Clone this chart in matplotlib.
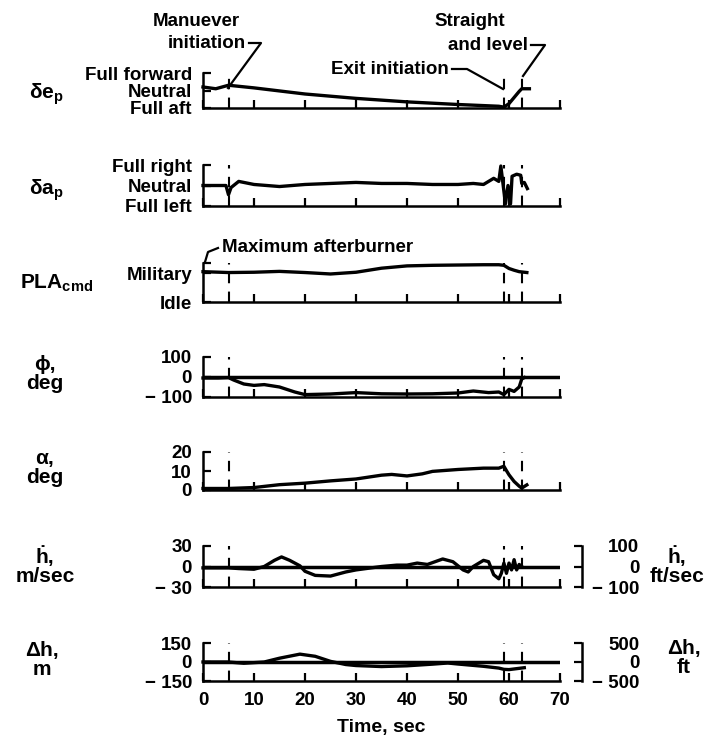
import matplotlib
matplotlib.use("Agg")
import matplotlib.pyplot as plt
from matplotlib.lines import Line2D

plt.rcParams['font.family'] = ['Liberation Sans', 'DejaVu Sans']
plt.rcParams['font.weight'] = 'bold'
plt.rcParams['mathtext.fontset'] = 'custom'
plt.rcParams['mathtext.rm'] = 'Liberation Sans:bold'
plt.rcParams['mathtext.it'] = 'Liberation Sans:bold'
plt.rcParams['mathtext.bf'] = 'Liberation Sans:bold'

# ---------------- data ----------------
event_times = [5, 59, 62.5]          # manuever initiation, exit initiation, straight and level
x_ticks = [0, 10, 20, 30, 40, 50, 60, 70]

t_de = [0, 2.5, 5, 10, 20, 30, 40, 50, 58, 59, 60, 61, 62, 62.5, 64]
de = [0.2, 0.1, 0.3, 0.15, -0.2, -0.45, -0.65, -0.8, -0.9, -0.95, -0.75, -0.4, -0.05, 0.1, 0.1]

t_da = [0, 4.5, 5, 5.5, 7, 10, 15, 20, 25, 30, 35, 40, 45, 50, 53, 55, 57, 58, 58.4,
        59.3, 59.8, 60.3, 60.6, 61.5, 62.3, 62.5, 63, 63.6]
da = [0, 0, -0.45, -0.1, 0.2, 0.05, -0.05, 0.05, 0.1, 0.15, 0.1, 0.1, 0.05, 0.05, 0.1, 0.05,
      0.35, 0.2, 0.95, -0.9, 0.0, -0.9, 0.45, 0.55, 0.5, 0.1, 0.15, -0.15]

t_pla = [0, 5, 10, 15, 20, 25, 30, 35, 40, 45, 50, 55, 58, 59, 60, 61, 62, 63.5]
pla = [1.05, 1.02, 1.03, 1.06, 1.02, 0.97, 1.03, 1.17, 1.25, 1.27, 1.28, 1.29, 1.29, 1.27, 1.16, 1.1, 1.05, 1.02]

t_phi = [0, 3, 5, 6, 8, 10, 12, 15, 18, 20, 25, 30, 35, 40, 45, 50, 53, 56, 58, 59, 60, 61, 62, 62.5, 63]
phi = [-5, -5, -3, -15, -35, -42, -38, -50, -75, -88, -85, -78, -84, -85, -84, -80, -70, -78, -75, -88, -62, -72, -50, -10, -3]

t_alpha = [0, 5, 10, 15, 20, 25, 30, 35, 37, 40, 43, 45, 50, 55, 58, 59, 59.5, 60, 61, 62, 62.5, 63.5]
alpha = [0.8, 0.8, 1.3, 2.8, 3.6, 4.8, 5.8, 7.8, 8.2, 7.4, 8.5, 9.8, 10.8, 11.5, 11.5, 12.5, 10.2, 8, 4.5, 2, 1, 2.7]

t_hdot = [0, 5, 7, 10, 12, 14, 15.4, 17, 19, 20, 22, 25, 28, 30, 32, 35, 38, 40, 42, 44, 47,
          49, 51, 52, 53, 55, 56, 57, 58, 58.5, 59, 59.5, 60, 60.5, 61, 61.5, 62, 62.5]
hdot = [-2, -2, -3, -4, 0, 9, 14, 9, 1, -7, -13, -14, -8, -5, -3, 0, 2, 2, 5, 3, 11,
        7, -5, -8, 0, 9, 7, -12, -18, -10, 5, -10, 5, -5, 10, -5, 3, 0]

t_dh = [0, 5, 8, 12, 15, 19, 22, 25, 28, 30, 35, 40, 45, 48, 50, 55, 58, 59, 60, 61, 62, 63]
dh = [0, 0, -10, 0, 30, 62, 45, 5, -20, -28, -36, -30, -17, -8, -16, -34, -48, -58, -60, -55, -50, -45]

# ---------------- figure ----------------
W, H = 708, 740
fig = plt.figure(figsize=(W / 100, H / 100), dpi=100)

def fx(x):
    return x / W

def fy(y):
    return 1 - y / H

AX_L, AX_R = 203, 560
panels = [  # (top, bottom) in pixels
    (73, 108), (165, 206), (263, 302), (357, 397), (452, 490), (546, 587), (643, 681)
]

LW = 2.4
TFS = 13.5

axes = []
for top, bot in panels:
    ax = fig.add_axes([fx(AX_L), fy(bot), fx(AX_R - AX_L), (bot - top) / H])
    ax.set_xlim(0, 70)
    for s in ['top', 'right']:
        ax.spines[s].set_visible(False)
    for s in ['left', 'bottom']:
        ax.spines[s].set_linewidth(1.8)
    ax.set_xticks(x_ticks)
    ax.tick_params(axis='both', direction='in', length=6, width=1.6, labelsize=TFS, pad=8)
    ax.tick_params(axis='x', labelbottom=False)
    ax.patch.set_alpha(0)
    for te in event_times:
        ax.axvline(te, color='black', lw=1.5, dashes=(5, 4), zorder=1)
    axes.append(ax)

a1, a2, a3, a4, a5, a6, a7 = axes

# panel 1
a1.plot(t_de, de, color='black', lw=LW, clip_on=False)
a1.set_ylim(-1, 1)
a1.set_yticks([-1, 0, 1], ['Full aft', 'Neutral', 'Full forward'])

# panel 2
a2.plot(t_da, da, color='black', lw=LW, clip_on=False)
a2.set_ylim(-1, 1)
a2.set_yticks([-1, 0, 1], ['Full left', 'Neutral', 'Full right'])

# panel 3
a3.plot(t_pla, pla, color='black', lw=LW, clip_on=False)
a3.set_ylim(0, 1.35)
a3.set_yticks([0, 1, 1.35], ['Idle', 'Military', ''])

# panel 4
a4.axhline(0, color='black', lw=2.5)
a4.plot(t_phi, phi, color='black', lw=LW, clip_on=False)
a4.set_ylim(-100, 100)
a4.set_yticks([-100, 0, 100], ['\u2212 100', '0', '100'])

# panel 5
a5.plot(t_alpha, alpha, color='black', lw=LW, clip_on=False)
a5.set_ylim(0, 20)
a5.set_yticks([0, 10, 20], ['0', '10', '20'])

# panel 6
a6.axhline(0, color='black', lw=2.5)
a6.plot(t_hdot, hdot, color='black', lw=LW, clip_on=False)
a6.set_ylim(-30, 30)
a6.set_yticks([-30, 0, 30], ['\u2212 30', '0', '30'])

# panel 7
a7.axhline(0, color='black', lw=2.5)
a7.plot(t_dh, dh, color='black', lw=LW, clip_on=False)
a7.set_ylim(-150, 150)
a7.set_yticks([-150, 0, 150], ['\u2212 150', '0', '150'])
a7.tick_params(axis='x', labelbottom=True, pad=8)
a7.set_xlabel('Time, sec', fontsize=TFS + 0.5, fontweight='bold', labelpad=7)

# right-hand (ft) brackets
for ax, lim, labels in [(a6, 100, ['\u2212 100', '0', '100']), (a7, 500, ['\u2212 500', '0', '500'])]:
    tw = ax.twinx()
    tw.set_ylim(-lim, lim)
    for s in ['top', 'left', 'bottom']:
        tw.spines[s].set_visible(False)
    tw.spines['right'].set_position(('outward', 16))
    tw.spines['right'].set_linewidth(1.8)
    tw.set_yticks([-lim, 0, lim], labels)
    tw.tick_params(axis='y', direction='in', length=6, width=1.6, labelsize=TFS, pad=41)
    for lab in tw.get_yticklabels():
        lab.set_horizontalalignment('right')

# left-hand titles
tkw = dict(fontsize=15, fontweight='bold', ha='center', va='center')
fig.text(fx(46), fy(94), 'δe$_{\\mathrm{p}}$', **tkw)
fig.text(fx(46), fy(190), 'δa$_{\\mathrm{p}}$', **tkw)
fig.text(fx(57), fy(283), 'PLA$_{\\mathrm{cmd}}$', **tkw)
fig.text(fx(45), fy(374), 'ϕ,\ndeg', linespacing=1.0, **tkw)
fig.text(fx(45), fy(468), 'α,\ndeg', linespacing=1.0, **tkw)
fig.text(fx(45), fy(566), 'ḣ,\nm/sec', linespacing=1.0, **tkw)
fig.text(fx(42), fy(660), 'Δh,\nm', linespacing=1.0, **tkw)
fig.text(fx(677), fy(566), 'ḣ,\nft/sec', linespacing=1.0, **tkw)
fig.text(fx(684), fy(658), 'Δh,\nft', linespacing=1.0, **tkw)

# annotations
akw = dict(fontsize=TFS, fontweight='bold', va='center')
fig.text(fx(196), fy(22), 'Manuever', ha='center', **akw)
fig.text(fx(246), fy(43), 'initiation', ha='right', **akw)
fig.text(fx(470), fy(22), 'Straight', ha='center', **akw)
fig.text(fx(528), fy(45), 'and level', ha='right', **akw)
fig.text(fx(449), fy(69), 'Exit initiation', ha='right', **akw)
fig.text(fx(222), fy(248), 'Maximum afterburner', ha='left', **akw)

def leader(pts):
    xs = [fx(p[0]) for p in pts]
    ys = [fy(p[1]) for p in pts]
    fig.add_artist(Line2D(xs, ys, color='black', lw=1.6, transform=fig.transFigure))

leader([(249, 43), (261, 43), (228, 88)])
leader([(531, 45), (545, 45), (523, 76)])
leader([(452, 69), (467, 69), (503, 89)])
leader([(205, 262), (208, 252), (218, 248)])

fig.savefig('out.png', dpi=100)
